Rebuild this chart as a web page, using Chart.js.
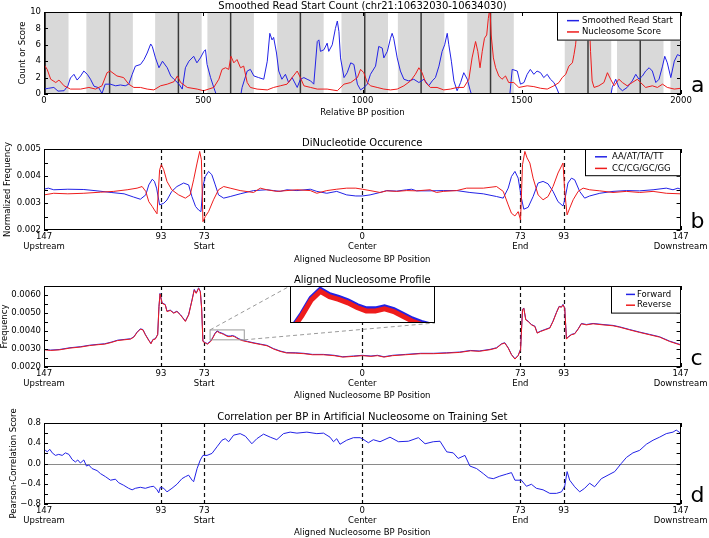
<!DOCTYPE html>
<html><head><meta charset="utf-8">
<script src="https://cdn.jsdelivr.net/npm/chart.js@4.4.1/dist/chart.umd.min.js"></script>
<style>
html,body{margin:0;padding:0;background:#fff;}
#wrap{position:relative;width:709px;height:538px;overflow:hidden;background:#fff;}
canvas{position:absolute;left:0;}
</style></head><body><div id="wrap">
<canvas id="ca" width="709" height="118" style="top:0px"></canvas>
<canvas id="cb" width="709" height="145" style="top:120px"></canvas>
<canvas id="cc" width="709" height="137" style="top:265px"></canvas>
<canvas id="cd" width="709" height="136" style="top:402px"></canvas>
<canvas id="ci" width="145" height="37" style="left:290px;top:286px"></canvas>
</div>
<script>
// ---------------- DATA ----------------
const aXTicks = [0, 500, 1000, 1500, 2000];
const aXLabels = ['0', '500', '1000', '1500', '2000'];
const aYTicks = [0, 2, 4, 6, 8, 10];
const aYLabels = ['0', '2', '4', '6', '8', '10'];
const aNucCenters = [4, 206, 422, 586, 805, 1007, 1184, 1402, 1708, 1872, 2040];
const aNucHalfWidth = 73;

const aReadStart = [[0,0.6],[15,0.7],[31,0.8],[44,0.35],[63,0.4],[75,1.0],[83,1.95],[94,2.4],[104,1.7],[115,2.2],[125,2.8],[136,2.4],[146,1.8],[157,0.95],[172,0.76],[182,0.05],[192,1.2],[208,1.2],[225,1.0],[240,1.1],[255,1.0],[266,1.2],[277,2.4],[287,3.4],[303,3.6],[314,4.2],[324,5.0],[335,6.1],[340,5.8],[350,4.4],[361,3.2],[372,4.0],[387,3.2],[398,2.2],[408,1.8],[424,1.2],[434,0.6],[444,3.2],[455,4.0],[470,4.6],[480,3.8],[491,4.4],[502,5.2],[507,5.4],[512,3.6],[523,2.0],[533,0.8],[543,-0.3],[555,-1],[605,-1],[617,-0.3],[622,0.8],[638,2.8],[648,3.0],[659,2.2],[674,2.0],[690,1.8],[701,4.0],[709,7.4],[716,6.6],[721,6.9],[730,5.0],[737,2.8],[747,1.8],[758,2.4],[768,1.4],[779,2.0],[795,0.8],[805,1.8],[816,2.0],[826,1.8],[837,1.6],[847,1.2],[858,6.4],[863,6.6],[868,5.2],[879,5.4],[889,6.2],[894,5.2],[905,6.0],[915,8.0],[921,8.9],[926,7.6],[931,4.4],[942,2.0],[952,2.6],[963,3.8],[973,3.6],[984,1.2],[994,0.5],[1005,0.8],[1015,1.2],[1025,2.4],[1041,3.4],[1051,5.8],[1062,5.6],[1067,4.4],[1078,5.2],[1088,6.8],[1093,7.4],[1098,6.8],[1109,4.4],[1119,2.8],[1130,1.8],[1145,1.6],[1161,1.8],[1177,1.4],[1193,1.8],[1208,1.0],[1219,1.6],[1229,2.0],[1240,3.4],[1250,5.2],[1258,6.0],[1266,7.4],[1271,6.0],[1279,4.0],[1287,1.6],[1297,0.4],[1308,1.4],[1318,2.6],[1329,1.8],[1337,0.6],[1344,-0.3],[1355,-1],[1455,-1],[1462,-0.3],[1470,3.0],[1486,2.8],[1496,1.2],[1507,1.4],[1517,2.4],[1527,3.0],[1538,2.4],[1548,2.8],[1559,2.6],[1569,2.0],[1580,2.4],[1590,1.8],[1601,1.4],[1611,0.6],[1620,-0.3],[1630,-1],[1770,-1],[1779,-0.3],[1784,0.8],[1795,1.8],[1805,0.8],[1816,0.4],[1831,0.8],[1847,1.6],[1858,2.4],[1868,1.8],[1879,2.2],[1889,2.8],[1900,3.2],[1910,2.8],[1921,1.4],[1931,1.8],[1942,3.4],[1949,4.6],[1957,3.8],[1968,2.0],[1979,4.0],[1989,4.8],[2000,4.6]];

const aNucScore = [[0,3.6],[10,3.0],[21,1.8],[37,1.4],[47,1.7],[63,1.0],[83,0.6],[115,0.6],[141,0.8],[162,0.6],[182,1.0],[198,2.6],[208,2.8],[229,2.2],[250,2.0],[266,1.2],[282,0.8],[303,0.8],[324,0.6],[345,0.5],[366,1.0],[387,1.2],[408,1.5],[419,2.2],[429,1.4],[450,0.8],[481,0.6],[501,0.4],[533,0.8],[549,1.8],[559,3.0],[570,3.2],[580,3.0],[587,4.6],[596,3.8],[606,4.2],[617,3.2],[627,3.4],[638,1.4],[648,0.8],[669,0.6],[701,0.5],[721,0.8],[742,1.0],[763,1.2],[779,2.0],[795,2.8],[805,2.0],[816,1.0],[837,0.8],[858,0.6],[889,0.6],[921,0.4],[942,1.2],[963,1.4],[984,2.0],[994,3.0],[1004,2.6],[1015,1.4],[1025,1.0],[1046,0.8],[1067,0.6],[1088,0.5],[1109,0.6],[1130,1.0],[1151,1.6],[1166,2.4],[1177,3.2],[1187,2.6],[1198,1.4],[1213,0.8],[1234,0.8],[1255,0.5],[1276,0.6],[1297,0.8],[1318,0.8],[1334,1.8],[1344,4.4],[1355,6.4],[1362,5.2],[1369,3.2],[1376,5.2],[1383,6.8],[1390,7.2],[1395,9.2],[1400,10.5],[1404,7.2],[1411,4.4],[1418,3.2],[1428,2.2],[1438,1.8],[1449,2.2],[1459,1.4],[1475,1.4],[1491,0.8],[1517,1.0],[1538,0.9],[1559,0.7],[1580,0.6],[1601,1.0],[1617,1.4],[1627,2.0],[1638,2.4],[1648,3.4],[1659,3.8],[1664,4.8],[1669,6.0],[1674,8.0],[1678,10.5],[1690,13],[1705,12],[1711,10],[1716,5.2],[1721,1.6],[1727,0.8],[1742,1.0],[1758,1.4],[1769,2.6],[1779,1.8],[1790,1.0],[1805,1.8],[1816,1.4],[1831,1.0],[1847,1.4],[1863,1.8],[1873,1.4],[1889,0.8],[1910,1.0],[1926,0.8],[1942,1.2],[1957,0.8],[1979,0.6],[2000,0.7]];

const nucTicks = [-147, -93, -73, 0, 73, 93, 147];
const nucLabels = [['147','Upstream'],['93'],['73','Start'],['0','Center'],['73','End'],['93'],['147','Downstream']];
const nucMarks = [-93, -73, 0, 73, 93];

const bYTicks = [0.002, 0.0025, 0.003, 0.0035, 0.004, 0.0045, 0.005];
const bYLabels = ['0.002', '', '0.003', '', '0.004', '', '0.005'];

const bAT = [[-147,0.00351],[-145,0.00355],[-142.5,0.00349],[-136,0.00351],[-128.6,0.0035],[-122.5,0.00345],[-116,0.00339],[-110,0.00334],[-105.6,0.00322],[-102.5,0.00314],[-100,0.0033],[-98.6,0.00367],[-97,0.00388],[-96,0.0038],[-95,0.00355],[-93.6,0.00293],[-91.7,0.00299],[-90.2,0.00311],[-88,0.00343],[-85.6,0.00361],[-82.5,0.00374],[-80.2,0.00367],[-78.7,0.00324],[-77,0.00287],[-75.6,0.00274],[-74.5,0.00268],[-73.6,0.00361],[-72.5,0.00398],[-71,0.00417],[-69.5,0.00405],[-67.9,0.00367],[-66.4,0.0033],[-64,0.00318],[-61,0.00324],[-56.4,0.00334],[-50.2,0.00346],[-44.1,0.00349],[-41,0.00346],[-37.9,0.00343],[-34.8,0.00349],[-30.2,0.00346],[-24,0.00351],[-21,0.00343],[-16.4,0.00336],[-11.8,0.00343],[-7.2,0.0033],[-3,0.00326],[0,0.00326],[3.6,0.0033],[8.2,0.00339],[11.3,0.00346],[15.9,0.00344],[20.5,0.00349],[22.8,0.00351],[25.1,0.00345],[31.3,0.00345],[37.4,0.00346],[43.6,0.00346],[49.7,0.00339],[55.9,0.00334],[62,0.00324],[65.1,0.00318],[67.4,0.00355],[68.9,0.00398],[70.5,0.00417],[72,0.00392],[73.5,0.00318],[74.6,0.00277],[76.6,0.00284],[78.9,0.00324],[81.2,0.00374],[83.5,0.0038],[85.8,0.00371],[88.1,0.00343],[90.4,0.00305],[92.7,0.00289],[93.5,0.00311],[95,0.00374],[96.6,0.00392],[98.1,0.00386],[100.4,0.00343],[102.7,0.00318],[105,0.00326],[109.7,0.00336],[115.8,0.00343],[122,0.00346],[128.1,0.00345],[134.3,0.00349],[140.4,0.00355],[143.5,0.00349],[145.8,0.00355],[147,0.00351]];

const bCG = [[-147,0.0033],[-142.5,0.00336],[-136,0.00334],[-128.6,0.00336],[-121,0.0034],[-114.8,0.00343],[-108.6,0.00349],[-104,0.00355],[-101.7,0.00361],[-100,0.00343],[-98.6,0.00305],[-97,0.00287],[-96,0.00274],[-94.8,0.0026],[-93.6,0.00423],[-92.8,0.00442],[-91.7,0.00423],[-90.2,0.0038],[-88,0.00349],[-84.8,0.0033],[-81.7,0.00318],[-79.5,0.0033],[-77.9,0.00386],[-76.3,0.00448],[-75.1,0.00491],[-74.3,0.0046],[-73.6,0.00231],[-72.5,0.0025],[-71,0.00268],[-68.7,0.00312],[-66.4,0.00349],[-64,0.00361],[-61,0.00355],[-56.4,0.00346],[-50.2,0.00339],[-47.1,0.00355],[-44.1,0.00349],[-39.5,0.00343],[-34.8,0.00346],[-30.2,0.00349],[-24,0.00346],[-21,0.00336],[-16.4,0.00346],[-11.8,0.00351],[-7.2,0.00355],[-3,0.00355],[0,0.00351],[3.6,0.00346],[8.2,0.00339],[11.3,0.00345],[15.9,0.00343],[20.5,0.00346],[25.1,0.00345],[31.3,0.00349],[34.3,0.00339],[37.4,0.00343],[43.6,0.00346],[48.2,0.00355],[55.9,0.00355],[62,0.00361],[65.1,0.00343],[67.4,0.00293],[68.9,0.00262],[70.5,0.00252],[72,0.00268],[73.1,0.00237],[74,0.00442],[75.1,0.00491],[76.1,0.00467],[77.4,0.00448],[78.9,0.00392],[81.2,0.0033],[83.5,0.00312],[85.8,0.00324],[88.1,0.00361],[90.4,0.00411],[92.7,0.00448],[93.5,0.00343],[94.6,0.00256],[95.8,0.00281],[97.4,0.00312],[99.7,0.00343],[102,0.00355],[105,0.00349],[109.7,0.00345],[115.8,0.00339],[122,0.00343],[128.1,0.00339],[134.3,0.00343],[140.4,0.00336],[147,0.00334]];

const cYTicks = [0.002, 0.0025, 0.003, 0.0035, 0.004, 0.0045, 0.005, 0.0055, 0.006];
const cYLabels = ['0.0020', '', '0.0030', '', '0.0040', '', '0.0050', '', '0.0060'];

const cReverse = [[-147,0.00296],[-144,0.00292],[-140,0.00295],[-135,0.00305],[-130,0.00311],[-126,0.00319],[-122,0.00324],[-119,0.00327],[-116,0.00336],[-113,0.00347],[-110,0.00351],[-107,0.00355],[-105.5,0.00366],[-104,0.00392],[-102.5,0.0041],[-101.3,0.00406],[-100.2,0.00379],[-98.6,0.00347],[-97.6,0.00329],[-96.7,0.00351],[-95.6,0.00355],[-94.5,0.00379],[-93.9,0.00535],[-93.4,0.00606],[-92.5,0.00554],[-91,0.00545],[-90.2,0.00508],[-88.7,0.00514],[-87.1,0.00499],[-85.6,0.00508],[-84,0.00489],[-81.7,0.00453],[-80.2,0.00489],[-78.6,0.00572],[-77.6,0.00628],[-76.7,0.00609],[-75.6,0.00637],[-74.8,0.00618],[-74.2,0.00526],[-73.6,0.00342],[-72.5,0.00333],[-71.5,0.00327],[-70,0.00342],[-69,0.00362],[-68,0.00385],[-67,0.00398],[-66,0.0039],[-65,0.00386],[-64,0.00381],[-63,0.00374],[-62,0.00369],[-61,0.00369],[-60,0.00372],[-59,0.00368],[-58,0.00361],[-57,0.00354],[-56,0.00349],[-55,0.00345],[-53,0.0034],[-50,0.00332],[-47,0.00325],[-44,0.00318],[-41,0.003],[-38,0.00287],[-35,0.00278],[-31,0.00277],[-27,0.00274],[-23,0.00268],[-18,0.00268],[-13,0.00263],[-9,0.00255],[-4,0.00259],[0,0.00263],[4,0.00259],[7,0.00263],[10,0.00255],[14,0.00263],[20,0.00268],[27,0.00274],[33,0.00274],[39,0.00277],[45,0.00281],[50,0.0029],[54,0.00287],[59,0.00296],[62,0.00305],[64.3,0.00327],[65.8,0.00333],[67.4,0.00305],[68.9,0.00268],[70.5,0.00244],[72,0.00263],[73.1,0.00296],[74,0.00517],[74.6,0.00526],[75.5,0.00462],[76.6,0.00453],[78.1,0.00434],[79.7,0.00425],[80.8,0.00388],[82.3,0.00397],[84.3,0.00406],[86.6,0.00416],[88.1,0.00453],[89.7,0.00502],[90.9,0.00535],[92,0.00532],[92.7,0.00545],[93.5,0.00526],[94.3,0.00355],[95.1,0.00366],[96.6,0.00379],[98.1,0.00384],[99.7,0.0041],[101.2,0.0044],[103.5,0.00434],[106.6,0.0044],[111.2,0.00434],[115.8,0.00429],[118.9,0.00421],[123.5,0.00406],[128.1,0.00392],[132.7,0.00379],[137.3,0.00366],[141.9,0.00342],[147,0.00322]];

const cForward = [[-147,0.00298],[-144,0.00294],[-140,0.00297],[-135,0.00307],[-130,0.00313],[-126,0.00321],[-122,0.00326],[-119,0.00329],[-116,0.00338],[-113,0.00349],[-110,0.00353],[-107,0.00357],[-105.5,0.00368],[-104,0.00394],[-102.5,0.00412],[-101.3,0.00408],[-100.2,0.00381],[-98.6,0.00349],[-97.6,0.00331],[-96.7,0.00353],[-95.6,0.00357],[-94.5,0.00381],[-93.9,0.00537],[-93.4,0.00609],[-92.5,0.00557],[-91,0.00547],[-90.2,0.0051],[-88.7,0.00516],[-87.1,0.00501],[-85.6,0.0051],[-84,0.00491],[-81.7,0.00455],[-80.2,0.00491],[-78.6,0.00575],[-77.6,0.00631],[-76.7,0.00611],[-75.6,0.0064],[-74.8,0.0062],[-74.2,0.00528],[-73.6,0.00344],[-72.5,0.00335],[-71.5,0.0033],[-70,0.00345],[-69,0.00365],[-68,0.00388],[-67,0.00401],[-66,0.00393],[-65,0.00389],[-64,0.00384],[-63,0.00377],[-62,0.00372],[-61,0.00372],[-60,0.00375],[-59,0.00371],[-58,0.00364],[-57,0.00357],[-56,0.00352],[-55,0.00348],[-53,0.00342],[-50,0.00334],[-47,0.00327],[-44,0.0032],[-41,0.00302],[-38,0.00289],[-35,0.0028],[-31,0.00279],[-27,0.00276],[-23,0.0027],[-18,0.0027],[-13,0.00265],[-9,0.00257],[-4,0.00261],[0,0.00265],[4,0.00261],[7,0.00265],[10,0.00257],[14,0.00265],[20,0.0027],[27,0.00276],[33,0.00276],[39,0.00279],[45,0.00283],[50,0.00292],[54,0.00289],[59,0.00298],[62,0.00307],[64.3,0.00329],[65.8,0.00335],[67.4,0.00307],[68.9,0.0027],[70.5,0.00246],[72,0.00265],[73.1,0.00298],[74,0.0052],[74.6,0.00528],[75.5,0.00464],[76.6,0.00455],[78.1,0.00436],[79.7,0.00427],[80.8,0.0039],[82.3,0.00399],[84.3,0.00408],[86.6,0.00418],[88.1,0.00455],[89.7,0.00504],[90.9,0.00537],[92,0.00534],[92.7,0.00548],[93.5,0.00528],[94.3,0.00357],[95.1,0.00368],[96.6,0.00381],[98.1,0.00386],[99.7,0.00412],[101.2,0.00442],[103.5,0.00436],[106.6,0.00442],[111.2,0.00436],[115.8,0.00431],[118.9,0.00423],[123.5,0.00408],[128.1,0.00394],[132.7,0.00381],[137.3,0.00368],[141.9,0.00344],[147,0.00324]];

const cZoomX = [-70.3, -54.5];
const cZoomY = [0.00351, 0.00406];

const dYTicks = [-0.8, -0.6, -0.4, -0.2, 0, 0.2, 0.4, 0.6, 0.8];
const dYLabels = ['\u22120.8', '', '\u22120.4', '', '0.0', '', '0.4', '', '0.8'];

const dCorr = [[-147,0.23],[-146.3,0.26],[-145.5,0.23],[-144.3,0.28],[-143.2,0.21],[-141.7,0.16],[-140.2,0.18],[-138.6,0.16],[-137.1,0.21],[-135.5,0.18],[-134,0.08],[-132.5,0.03],[-131.4,0.07],[-130.2,0.01],[-128.6,0.07],[-127.4,-0.05],[-126.3,-0.03],[-124.8,-0.1],[-122.5,-0.14],[-120.9,-0.2],[-118.6,-0.26],[-116.3,-0.33],[-114,-0.31],[-112.5,-0.38],[-110.2,-0.43],[-107.9,-0.49],[-106.3,-0.52],[-104.8,-0.49],[-102.5,-0.47],[-100.2,-0.49],[-97.9,-0.46],[-96.3,-0.45],[-94.8,-0.52],[-94,-0.58],[-93.3,-0.47],[-91.7,-0.49],[-90.2,-0.56],[-87.9,-0.49],[-85.6,-0.41],[-83.3,-0.3],[-81.7,-0.26],[-80.2,-0.23],[-78.6,-0.33],[-77.9,-0.36],[-76.3,-0.1],[-74.8,0.07],[-73.6,0.16],[-71.7,0.16],[-69.4,0.2],[-67.1,0.33],[-64.8,0.46],[-63.3,0.49],[-61.7,0.43],[-59.4,0.56],[-56.4,0.59],[-54,0.54],[-51,0.39],[-48.7,0.49],[-45.6,0.58],[-42.5,0.52],[-39.5,0.47],[-36.4,0.59],[-33.3,0.62],[-30.2,0.6],[-25.6,0.62],[-21,0.59],[-17.9,0.6],[-14.9,0.52],[-13.3,0.43],[-11.8,0.49],[-10.3,0.38],[-7.2,0.46],[-4.1,0.51],[-1,0.51],[0,0.49],[2.8,0.41],[5.1,0.47],[8.2,0.43],[12.8,0.52],[16.7,0.43],[21.3,0.44],[25.9,0.51],[29,0.39],[32.8,0.43],[35.9,0.44],[39,0.23],[42,0.21],[44.3,0.1],[47.4,0.16],[49.7,-0.05],[52.8,-0.1],[55.9,-0.2],[58.2,-0.28],[60.5,-0.3],[63.5,-0.25],[66.6,-0.21],[68.9,-0.18],[70.5,-0.33],[73.5,-0.33],[75.8,-0.45],[78.1,-0.41],[80.4,-0.49],[83.5,-0.52],[86.6,-0.59],[89.7,-0.59],[92,-0.56],[93.5,-0.45],[94.6,-0.16],[95.8,-0.33],[98.1,-0.46],[100.4,-0.56],[102.7,-0.49],[105,-0.39],[107.3,-0.46],[110.4,-0.3],[113.5,-0.23],[116.6,-0.16],[119.6,0],[122,0.12],[125,0.21],[128.1,0.26],[131.2,0.38],[134.3,0.46],[137.3,0.52],[140.4,0.59],[143.5,0.62],[145,0.66],[147,0.6]];

// ---------------- STYLE / LAYOUT ----------------
const BLUE = '#2222e6', RED = '#ee1c1c';
const FONT = "'DejaVu Sans', 'Bitstream Vera Sans', sans-serif";
const INSET = {left: 290, top: 286, width: 145, height: 37};
Chart.defaults.font.family = FONT;
Chart.defaults.font.size = 8.5;
Chart.defaults.color = '#000';

function xy(pairs) { return pairs.map(p => ({x: p[0], y: p[1]})); }

const panelPlugin = {
  id: 'panel',
  beforeDatasetsDraw(chart, args, o) {
    const {ctx, chartArea: ca, scales: {x, y}} = chart;
    ctx.save();
    ctx.beginPath(); ctx.rect(ca.left, ca.top, ca.right - ca.left, ca.bottom - ca.top); ctx.clip();
    if (o.shading) {
      const s = o.shading;
      ctx.fillStyle = '#d9d9d9';
      s.centers.forEach(c => {
        const x1 = x.getPixelForValue(c - s.half), x2 = x.getPixelForValue(c + s.half);
        ctx.fillRect(x1, ca.top, x2 - x1, ca.bottom - ca.top);
      });
      ctx.strokeStyle = '#3a3a3a'; ctx.lineWidth = 1.5;
      s.centers.forEach(c => {
        const px = x.getPixelForValue(c);
        ctx.beginPath(); ctx.moveTo(px, ca.top); ctx.lineTo(px, ca.bottom); ctx.stroke();
      });
    }
    if (o.hline !== undefined) {
      const py = Math.round(y.getPixelForValue(o.hline)) + 0.5;
      ctx.strokeStyle = '#8a8a8a'; ctx.lineWidth = 1;
      ctx.beginPath(); ctx.moveTo(ca.left, py); ctx.lineTo(ca.right, py); ctx.stroke();
    }
    if (o.vlines) {
      ctx.strokeStyle = '#111'; ctx.lineWidth = 1.2; ctx.setLineDash([4, 3]);
      o.vlines.forEach(v => {
        const px = Math.round(x.getPixelForValue(v)) + 0.5;
        ctx.beginPath(); ctx.moveTo(px, ca.top); ctx.lineTo(px, ca.bottom); ctx.stroke();
      });
      ctx.setLineDash([]);
    }
    ctx.restore();
  },
  afterDraw(chart, args, o) {
    const {ctx, chartArea: ca, scales: {x, y}} = chart;
    ctx.save();
    if (o.zoom) {
      const z = o.zoom;
      const x1 = x.getPixelForValue(z.x[0]), x2 = x.getPixelForValue(z.x[1]);
      const y1 = y.getPixelForValue(z.y[1]), y2 = y.getPixelForValue(z.y[0]);
      ctx.strokeStyle = '#9a9a9a'; ctx.lineWidth = 1;
      ctx.strokeRect(x1, y1, x2 - x1, y2 - y1);
      ctx.setLineDash([4, 3]);
      ctx.beginPath(); ctx.moveTo(x1, y1); ctx.lineTo(z.tl[0], z.tl[1]); ctx.stroke();
      ctx.beginPath(); ctx.moveTo(x2, y2); ctx.lineTo(z.br[0], z.br[1]); ctx.stroke();
      ctx.setLineDash([]);
    }
    ctx.strokeStyle = '#000'; ctx.lineWidth = 1;
    ctx.strokeRect(Math.round(ca.left) + 0.5, Math.round(ca.top) + 0.5, Math.round(ca.right - ca.left) - 1, Math.round(ca.bottom - ca.top) - 1);
    const T = 4;
    ctx.beginPath();
    x.ticks.forEach(t => {
      const px = Math.round(x.getPixelForValue(t.value)) + 0.5;
      ctx.moveTo(px, ca.bottom); ctx.lineTo(px, ca.bottom - T);
      ctx.moveTo(px, ca.top); ctx.lineTo(px, ca.top + T);
    });
    y.ticks.forEach(t => {
      const py = Math.round(y.getPixelForValue(t.value)) + 0.5;
      ctx.moveTo(ca.left, py); ctx.lineTo(ca.left + T, py);
      ctx.moveTo(ca.right, py); ctx.lineTo(ca.right - T, py);
    });
    ctx.stroke();
    ctx.fillStyle = '#000';
    ctx.font = '10px ' + FONT; ctx.textAlign = 'center'; ctx.textBaseline = 'alphabetic';
    ctx.fillText(o.title, (ca.left + ca.right) / 2, ca.top - 3.5);
    ctx.font = '22px ' + FONT; ctx.textAlign = 'left';
    ctx.fillText(o.letter, ca.right + 10, ca.bottom - 2);
    if (o.legend) {
      const L = o.legend;
      const ds = chart.data.datasets;
      const h = L.pad * 2 + ds.length * L.rowH;
      const x0 = Math.round(ca.right - L.width), y0 = Math.round(ca.top);
      ctx.fillStyle = '#fff'; ctx.fillRect(x0, y0, L.width, h);
      ctx.strokeStyle = '#000'; ctx.lineWidth = 1; ctx.strokeRect(x0 + 0.5, y0 + 0.5, L.width - 1, h - 1);
      ctx.font = '8.5px ' + FONT; ctx.textBaseline = 'middle'; ctx.textAlign = 'left';
      ds.forEach((d, i) => {
        const cy = y0 + L.pad + L.rowH * (i + 0.5);
        ctx.strokeStyle = d.borderColor; ctx.lineWidth = 1.5;
        ctx.beginPath(); ctx.moveTo(x0 + L.lineX, cy); ctx.lineTo(x0 + L.lineX + L.lineLen, cy); ctx.stroke();
        ctx.fillStyle = '#000'; ctx.fillText(d.label, x0 + L.textX, cy);
      });
    }
    ctx.restore();
  }
};

function makePanel(id, cfg) {
  return new Chart(document.getElementById(id), {
    type: 'line',
    data: {
      datasets: cfg.series.map(s => ({
        label: s.label, data: xy(s.data), borderColor: s.color, borderWidth: 1,
        pointRadius: 0, tension: 0, fill: false, order: s.order
      }))
    },
    options: {
      responsive: false, animation: false, devicePixelRatio: 1, events: [],
      layout: {padding: {top: cfg.padTop, right: 28, left: 0, bottom: 0}},
      plugins: {legend: {display: false}, tooltip: {enabled: false}, panel: cfg.panel},
      scales: {
        x: {
          type: 'linear', min: cfg.xMin, max: cfg.xMax,
          grid: {display: false, drawTicks: false, tickLength: 0}, border: {display: false},
          afterBuildTicks: ax => { ax.ticks = cfg.xTicks.map(v => ({value: v})); },
          afterFit: ax => { ax.height = cfg.xAxisH; },
          ticks: {autoSkip: false, maxRotation: 0, minRotation: 0, padding: 1.5, font: {size: 8.5, lineHeight: 1.2},
                  callback: (v, i) => cfg.xLabels[i]},
          title: {display: true, text: cfg.xTitle, font: {size: 8.5}, padding: {top: 0, bottom: cfg.xTitlePad}}
        },
        y: {
          type: 'linear', min: cfg.yMin, max: cfg.yMax,
          grid: {display: false, drawTicks: false, tickLength: 0}, border: {display: false},
          afterBuildTicks: ax => { ax.ticks = cfg.yTicks.map(v => ({value: v})); },
          afterFit: ax => { ax.width = 44; },
          ticks: {autoSkip: false, padding: 3, font: {size: 8.5}, callback: (v, i) => cfg.yLabels[i]},
          title: {display: true, text: cfg.yTitle, font: {size: 8.5}, padding: {top: cfg.yTitlePad, bottom: 0}}
        }
      }
    },
    plugins: [panelPlugin]
  });
}

makePanel('ca', {
  padTop: 12, xAxisH: 24, xTitlePad: 0, yTitlePad: 18,
  xMin: 0, xMax: 2000, yMin: 0, yMax: 10,
  xTicks: aXTicks, xLabels: aXLabels, yTicks: aYTicks, yLabels: aYLabels,
  xTitle: 'Relative BP position', yTitle: 'Count or Score',
  series: [
    {label: 'Smoothed Read Start', data: aReadStart, color: BLUE, order: 2},
    {label: 'Nucleosome Score', data: aNucScore, color: RED, order: 1}
  ],
  panel: {title: 'Smoothed Read Start Count (chr21:10632030-10634030)', letter: 'a',
          shading: {centers: aNucCenters, half: aNucHalfWidth},
          legend: {width: 124, pad: 3, rowH: 11.3, lineX: 10, lineLen: 12, textX: 25}}
});

makePanel('cb', {
  padTop: 29, xAxisH: 35, xTitlePad: 0, yTitlePad: 3,
  xMin: -147, xMax: 147, yMin: 0.002, yMax: 0.005,
  xTicks: nucTicks, xLabels: nucLabels, yTicks: bYTicks, yLabels: bYLabels,
  xTitle: 'Aligned Nucleosome BP Position', yTitle: 'Normalized Frequency',
  series: [
    {label: 'AA/AT/TA/TT', data: bAT, color: BLUE, order: 2},
    {label: 'CC/CG/GC/GG', data: bCG, color: RED, order: 1}
  ],
  panel: {title: 'DiNucleotide Occurence', letter: 'b', vlines: nucMarks,
          legend: {width: 96, pad: 2, rowH: 11.6, lineX: 10, lineLen: 12, textX: 27}}
});

makePanel('cc', {
  padTop: 21, xAxisH: 35, xTitlePad: 1, yTitlePad: 0,
  xMin: -147, xMax: 147, yMin: 0.002, yMax: 0.0065,
  xTicks: nucTicks, xLabels: nucLabels, yTicks: cYTicks, yLabels: cYLabels,
  xTitle: 'Aligned Nucleosome BP Position', yTitle: 'Frequency',
  series: [
    {label: 'Forward', data: cForward, color: BLUE, order: 2},
    {label: 'Reverse', data: cReverse, color: RED, order: 1}
  ],
  panel: {title: 'Aligned Nucleosome Profile', letter: 'c', vlines: nucMarks,
          zoom: {x: cZoomX, y: cZoomY, tl: [INSET.left, INSET.top - 265], br: [INSET.left + INSET.width, INSET.top - 265 + INSET.height]},
          legend: {width: 70, pad: 3, rowH: 10.8, lineX: 15, lineLen: 9, textX: 26}}
});

makePanel('cd', {
  padTop: 21, xAxisH: 34, xTitlePad: 0, yTitlePad: 9,
  xMin: -147, xMax: 147, yMin: -0.8, yMax: 0.8,
  xTicks: nucTicks, xLabels: nucLabels, yTicks: dYTicks, yLabels: dYLabels,
  xTitle: 'Aligned Nucleosome BP Position', yTitle: 'Pearson-Correlation Score',
  series: [
    {label: 'Correlation', data: dCorr, color: BLUE, order: 1}
  ],
  panel: {title: 'Correlation per BP in Artificial Nucleosome on Training Set', letter: 'd', vlines: nucMarks, hline: 0}
});

new Chart(document.getElementById('ci'), {
  type: 'line',
  data: {datasets: [
    {label: 'Forward', data: xy(cForward), borderColor: BLUE, borderWidth: 5, pointRadius: 0, tension: 0, order: 2, clip: 0},
    {label: 'Reverse', data: xy(cReverse), borderColor: RED, borderWidth: 5, pointRadius: 0, tension: 0, order: 1, clip: 0}
  ]},
  options: {
    responsive: false, animation: false, devicePixelRatio: 1, events: [],
    layout: {padding: 0},
    plugins: {legend: {display: false}, tooltip: {enabled: false}},
    scales: {
      x: {type: 'linear', display: false, min: cZoomX[0], max: cZoomX[1]},
      y: {type: 'linear', display: false, min: cZoomY[0], max: cZoomY[1]}
    }
  },
  plugins: [{
    id: 'insetFrame',
    beforeDraw(c) { c.ctx.save(); c.ctx.fillStyle = '#fff'; c.ctx.fillRect(0, 0, c.width, c.height); c.ctx.restore(); },
    afterDraw(c) { const ctx = c.ctx; ctx.save(); ctx.strokeStyle = '#000'; ctx.lineWidth = 1; ctx.strokeRect(0.5, 0.5, c.width - 1, c.height - 1); ctx.restore(); }
  }]
});
</script>
</body></html>
